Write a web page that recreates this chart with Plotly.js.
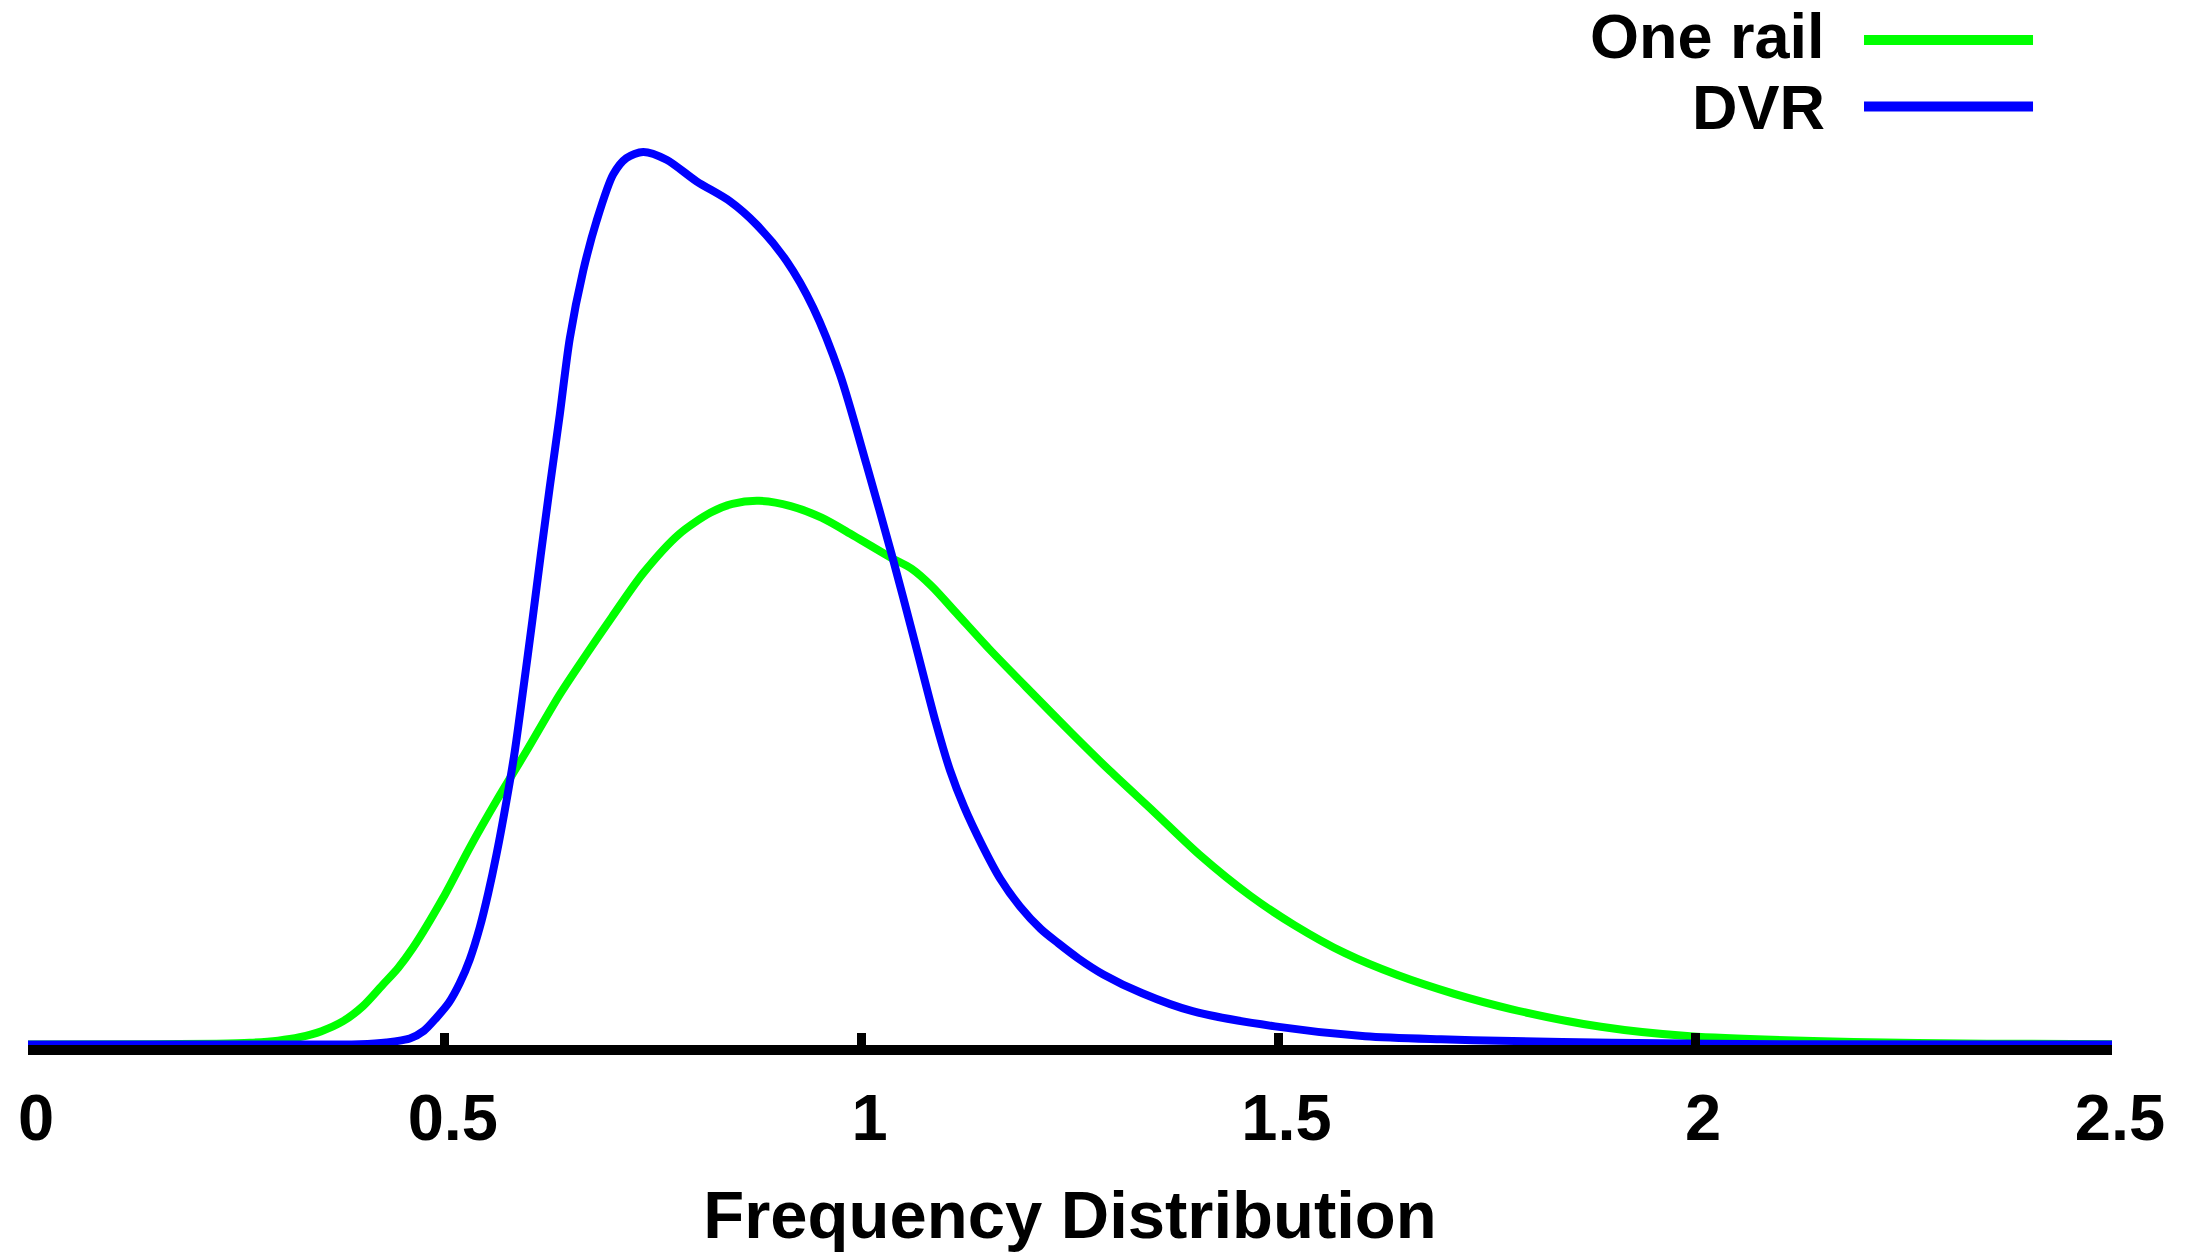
<!DOCTYPE html>
<html>
<head>
<meta charset="utf-8">
<script src="https://cdn.plot.ly/plotly-3.0.1.min.js"></script>
<style>html,body{margin:0;padding:0;background:#fff;}#chart{width:2192px;height:1252px;}</style>
</head>
<body>
<div id="chart"></div>
<script>
// Series names
const seriesNames = ["One rail", "DVR"];
const seriesColors = ["#00ff00", "#0000ff"];

// One rail (green) frequency distribution
const oneRailX = [0.00, 0.15, 0.226, 0.266, 0.300, 0.326, 0.352, 0.378, 0.402, 0.426, 0.444, 0.462, 0.498, 0.530, 0.562, 0.598, 0.638, 0.669, 0.701, 0.738, 0.781, 0.819, 0.845, 0.877, 0.915, 0.952, 0.990, 1.036, 1.060, 1.084, 1.115, 1.153, 1.206, 1.252, 1.298, 1.351, 1.405, 1.466, 1.519, 1.580, 1.642, 1.711, 1.779, 1.887, 1.994, 2.19, 2.35, 2.5];
const oneRailY = [0.001, 0.002, 0.003, 0.005, 0.010, 0.018, 0.032, 0.055, 0.090, 0.140, 0.178, 0.225, 0.340, 0.456, 0.564, 0.679, 0.810, 0.900, 0.990, 1.090, 1.180, 1.230, 1.250, 1.257, 1.245, 1.218, 1.177, 1.125, 1.100, 1.060, 0.995, 0.915, 0.810, 0.720, 0.633, 0.538, 0.440, 0.345, 0.277, 0.212, 0.162, 0.118, 0.083, 0.042, 0.020, 0.007, 0.003, 0.002];

// DVR (blue) frequency distribution
const dvrX = [0.00, 0.30, 0.398, 0.430, 0.458, 0.475, 0.490, 0.505, 0.518, 0.530, 0.542, 0.552, 0.562, 0.574, 0.584, 0.594, 0.605, 0.615, 0.626, 0.638, 0.650, 0.666, 0.682, 0.702, 0.718, 0.738, 0.766, 0.802, 0.842, 0.874, 0.910, 0.942, 0.974, 1.006, 1.036, 1.064, 1.089, 1.106, 1.123, 1.145, 1.166, 1.190, 1.215, 1.236, 1.260, 1.290, 1.336, 1.397, 1.496, 1.604, 1.695, 1.765, 1.90, 2.10, 2.5];
const dvrY = [0.001, 0.001, 0.002, 0.006, 0.015, 0.033, 0.063, 0.098, 0.143, 0.198, 0.272, 0.350, 0.440, 0.564, 0.679, 0.820, 0.980, 1.130, 1.290, 1.457, 1.633, 1.788, 1.903, 2.011, 2.049, 2.063, 2.045, 1.995, 1.949, 1.895, 1.811, 1.703, 1.549, 1.340, 1.134, 0.930, 0.745, 0.635, 0.550, 0.460, 0.385, 0.320, 0.268, 0.235, 0.200, 0.163, 0.120, 0.078, 0.043, 0.020, 0.013, 0.010, 0.005, 0.002, 0.001];

// Axis ticks
const tickVals = [0, 0.5, 1, 1.5, 2, 2.5];
const tickText = ["0", "0.5", "1", "1.5", "2", "2.5"];
const xTitle = "Frequency Distribution";

const FONT = "Liberation Sans, Arial, sans-serif";

const traces = [
  {x: oneRailX, y: oneRailY, name: seriesNames[0], type: "scatter", mode: "lines",
   line: {color: seriesColors[0], width: 8, shape: "spline", smoothing: 0.8}, showlegend: false, hoverinfo: "skip"},
  {x: dvrX, y: dvrY, name: seriesNames[1], type: "scatter", mode: "lines",
   line: {color: seriesColors[1], width: 8, shape: "spline", smoothing: 0.8}, showlegend: false, hoverinfo: "skip"}
];

// legend: label on the left, line sample on the right (as in the reference)
const legendRows = [
  {label: seriesNames[0], color: seriesColors[0], yText: 0.9716, yLine: 0.9673},
  {label: seriesNames[1], color: seriesColors[1], yText: 0.9028, yLine: 0.9033}
];
const annotations = legendRows.map(r => ({
  xref: "paper", yref: "paper", x: 0.8627, y: r.yText, xanchor: "right", yanchor: "middle",
  text: r.label, showarrow: false, borderpad: 0,
  font: {family: FONT, size: 63, color: "#000", weight: 700}
}));
const shapes = legendRows.map(r => ({
  type: "line", xref: "paper", yref: "paper", x0: 0.8810, x1: 0.9621, y0: r.yLine, y1: r.yLine,
  line: {color: r.color, width: 10}
}));

const layout = {
  width: 2192, height: 1252,
  margin: {l: 28, r: 80, t: 6, b: 207},
  paper_bgcolor: "#ffffff", plot_bgcolor: "#ffffff",
  showlegend: false,
  xaxis: {
    range: [0, 2.5], tickmode: "array", tickvals: tickVals, ticktext: tickText,
    showgrid: false, zeroline: false, showline: true, linecolor: "#000", linewidth: 10,
    ticks: "inside", ticklen: 12, tickwidth: 9, tickcolor: "#000",
    tickfont: {family: FONT, size: 65, color: "#000", weight: 700},
    ticklabelstandoff: 7, ticklabelshift: 8,
    title: {text: xTitle, font: {family: FONT, size: 67, color: "#000", weight: 700}, standoff: 51}
  },
  yaxis: {
    range: [0, 2.4], visible: false, showgrid: false, zeroline: false
  },
  annotations: annotations,
  shapes: shapes
};

Plotly.newPlot("chart", traces, layout, {staticPlot: true, displayModeBar: false});
</script>
</body>
</html>
